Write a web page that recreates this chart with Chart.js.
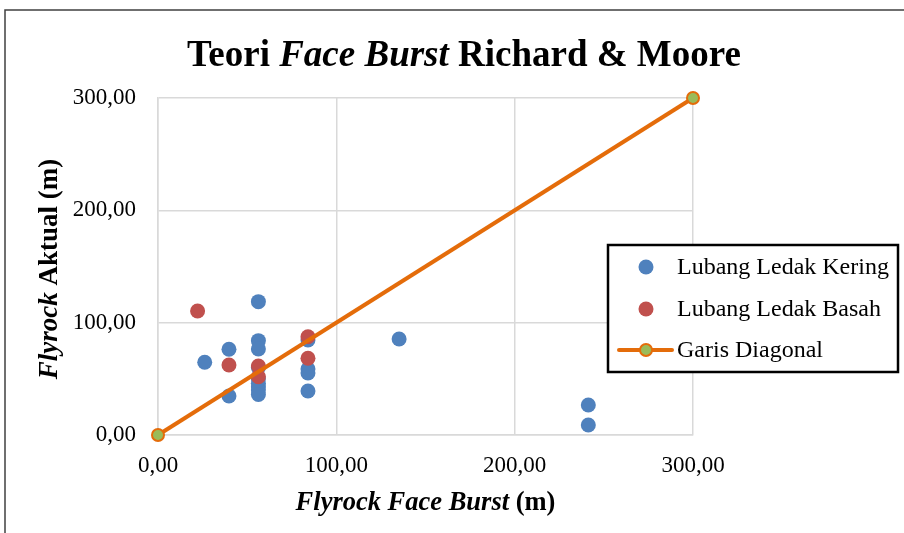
<!DOCTYPE html>
<html>
<head>
<meta charset="utf-8">
<script src="https://cdn.jsdelivr.net/npm/chart.js@4.4.1/dist/chart.umd.min.js"></script>
<style>
    body { margin: 0; background: #ffffff; }
    #wrap { position: relative; width: 904px; height: 533px; }
</style>
</head>
<body>
<div id="wrap"><canvas id="grafico" width="904" height="533"></canvas></div>
<script>
// Datos
const keringX = [26.2, 39.8, 39.8, 56.3, 56.3, 56.3, 56.3, 56.3, 56.3, 56.3, 56.3, 56.3, 84.1, 84.1, 84.1, 84.1, 135.2, 241.3, 241.3];
const keringY = [64.7, 76.3, 34.7, 118.7, 84.0, 76.6, 60.0, 50.0, 46.0, 43.0, 40.0, 36.0, 84.6, 58.8, 55.2, 39.2, 85.5, 26.7, 8.9];
const basahX = [22.2, 39.8, 56.3, 56.3, 84.1, 84.1];
const basahY = [110.4, 62.3, 61.4, 51.9, 87.5, 68.3];
const diagonalX = [0, 300];
const diagonalY = [0, 300];
const ticksEje = [0, 100, 200, 300];

const seriesNombres = ['Lubang Ledak Kering', 'Lubang Ledak Basah', 'Garis Diagonal'];

const azul = '#4F81BD';
const rojo = '#C0504D';
const naranja = '#E46C0A';
const verde = '#9BBB59';
const fuente = '"Liberation Serif", "Times New Roman", serif';

function puntos(xs, ys) {
    return xs.map((x, i) => ({ x: x, y: ys[i] }));
}

function formatoTick(v) {
    return v.toFixed(2).replace('.', ',');
}

// Dibuja un texto con partes en cursiva
function textoMixto(ctx, partes, size, cx, cy, rot) {
    ctx.save();
    ctx.translate(cx, cy);
    if (rot) ctx.rotate(rot);
    ctx.textBaseline = 'middle';
    ctx.textAlign = 'left';
    ctx.fillStyle = '#000000';
    let total = 0;
    partes.forEach(p => {
        ctx.font = (p.i ? 'italic ' : '') + 'bold ' + size + 'px ' + fuente;
        total += ctx.measureText(p.t).width;
    });
    let x = -total / 2;
    partes.forEach(p => {
        ctx.font = (p.i ? 'italic ' : '') + 'bold ' + size + 'px ' + fuente;
        ctx.fillText(p.t, x, 0);
        x += ctx.measureText(p.t).width;
    });
    ctx.restore();
}

const pluginTextos = {
    id: 'textos',
    afterDraw(chart) {
        const ctx = chart.ctx;
        const area = chart.chartArea;

        // marco exterior
        ctx.save();
        ctx.strokeStyle = '#404040';
        ctx.lineWidth = 1.5;
        ctx.beginPath();
        ctx.moveTo(5, 533);
        ctx.lineTo(5, 10);
        ctx.lineTo(904, 10);
        ctx.stroke();
        ctx.restore();

        // título
        textoMixto(ctx, [
            { t: 'Teori ', i: false },
            { t: 'Face Burst', i: true },
            { t: ' Richard & Moore', i: false }
        ], 37, 464, 56, 0);

        // títulos de ejes
        textoMixto(ctx, [
            { t: 'Flyrock Face Burst', i: true },
            { t: ' (m)', i: false }
        ], 26.5, (area.left + area.right) / 2, 503, 0);
        textoMixto(ctx, [
            { t: 'Flyrock', i: true },
            { t: ' Aktual (m)', i: false }
        ], 27, 50, 269, -Math.PI / 2);

        // leyenda
        ctx.save();
        ctx.fillStyle = '#ffffff';
        ctx.fillRect(608, 245, 290, 127);
        ctx.strokeStyle = '#000000';
        ctx.lineWidth = 2.5;
        ctx.strokeRect(608, 245, 290, 127);
        const filas = [267, 309, 350];
        ctx.font = '24px ' + fuente;
        ctx.textBaseline = 'middle';
        ctx.fillStyle = '#000000';
        seriesNombres.forEach((n, i) => {
            ctx.fillText(n, 677, filas[i] + 1);
        });
        ctx.beginPath();
        ctx.arc(646, filas[0], 7.5, 0, Math.PI * 2);
        ctx.fillStyle = azul;
        ctx.fill();
        ctx.beginPath();
        ctx.arc(646, filas[1], 7.5, 0, Math.PI * 2);
        ctx.fillStyle = rojo;
        ctx.fill();
        ctx.strokeStyle = naranja;
        ctx.lineWidth = 4;
        ctx.lineCap = 'round';
        ctx.beginPath();
        ctx.moveTo(619, filas[2]);
        ctx.lineTo(672, filas[2]);
        ctx.stroke();
        ctx.beginPath();
        ctx.arc(646, filas[2], 6, 0, Math.PI * 2);
        ctx.fillStyle = verde;
        ctx.fill();
        ctx.lineWidth = 2;
        ctx.stroke();
        ctx.restore();
    }
};

const ctx = document.getElementById('grafico').getContext('2d');
const grafico = new Chart(ctx, {
    type: 'scatter',
    data: {
        datasets: [{
            label: seriesNombres[0],
            data: puntos(keringX, keringY),
            backgroundColor: azul,
            borderColor: azul,
            pointRadius: 7.5,
            borderWidth: 0,
            order: 3
        }, {
            label: seriesNombres[1],
            data: puntos(basahX, basahY),
            backgroundColor: rojo,
            borderColor: rojo,
            pointRadius: 7.5,
            borderWidth: 0,
            order: 2
        }, {
            label: seriesNombres[2],
            data: puntos(diagonalX, diagonalY),
            showLine: true,
            borderColor: naranja,
            borderWidth: 4,
            backgroundColor: verde,
            pointBackgroundColor: verde,
            pointBorderColor: naranja,
            pointBorderWidth: 2,
            pointRadius: 6,
            order: 1
        }]
    },
    options: {
        responsive: false,
        animation: false,
        clip: false,
        layout: {
            padding: { left: 0, top: 98, right: 211, bottom: 48 }
        },
        plugins: {
            legend: { display: false },
            title: { display: false },
            tooltip: { enabled: false }
        },
        scales: {
            x: {
                type: 'linear',
                min: 0,
                max: 300,
                afterBuildTicks: (s) => { s.ticks = ticksEje.map(v => ({ value: v })); },
                afterFit: (s) => { s.height = 50; },
                grid: { color: '#D9D9D9', lineWidth: 1.5, drawTicks: false },
                border: { color: '#D9D9D9', width: 1.5 },
                ticks: {
                    padding: 17,
                    color: '#000000',
                    font: { family: fuente, size: 23 },
                    callback: formatoTick
                }
            },
            y: {
                type: 'linear',
                min: 0,
                max: 300,
                afterBuildTicks: (s) => { s.ticks = ticksEje.map(v => ({ value: v })); },
                afterFit: (s) => { s.width = 158; },
                grid: { color: '#D9D9D9', lineWidth: 1.5, drawTicks: false },
                border: { color: '#D9D9D9', width: 1.5 },
                ticks: {
                    padding: 22,
                    color: '#000000',
                    font: { family: fuente, size: 23 },
                    callback: formatoTick
                }
            }
        }
    },
    plugins: [pluginTextos]
});
</script>
</body>
</html>
